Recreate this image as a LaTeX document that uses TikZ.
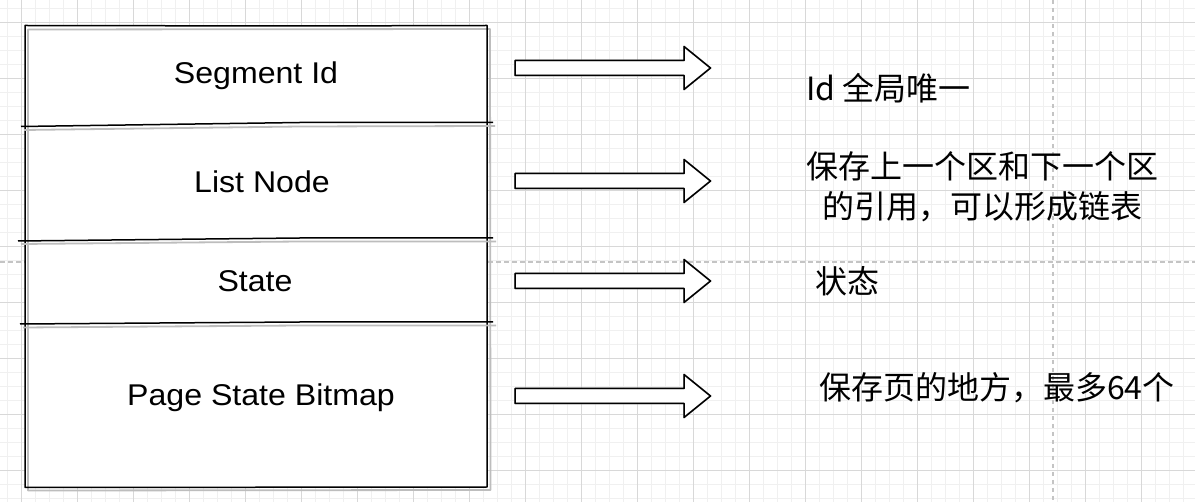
\documentclass[tikz,border=0pt]{standalone}
\usepackage{fontspec}
\setmainfont[FakeStretch=1.07]{Liberation Sans}
\newfontfamily\cjk{Noto Sans CJK SC}
\definecolor{minorc}{HTML}{F0F0F0}
\definecolor{majorc}{HTML}{D8D8D8}
\definecolor{breakc}{HTML}{C4C4C4}
\definecolor{shadec}{HTML}{BDBDBD}
\tikzset{
  minorgrid/.style={draw=minorc, line width=1pt},
  majorgrid/.style={draw=majorc, line width=1pt},
  pagebreak/.style={draw=breakc, line width=1.3pt, dash pattern=on 4.5pt off 3.5pt},
  sketch/.style={draw=black, line width=1.5pt, line join=round},
  shade/.style={draw=shadec, line width=1.8pt, line join=round},
  lbl/.style={font=\fontsize{30}{36}\selectfont, inner sep=0pt, anchor=base},
  note/.style={font=\cjk\fontsize{32}{40}\selectfont, inner sep=0pt},
}
\newcommand\blockarrowpath{++(0,-7.5) -- ++(169,0) -- ++(0,-14) -- ++(26.5,21.5) -- ++(-26.5,21.5) -- ++(0,-14) -- ++(-169,0) -- cycle}
\begin{document}
\begin{tikzpicture}[x=1pt,y=-1pt]
\useasboundingbox (0,0) rectangle (1195,502);
\fill[white] (0,0) rectangle (1195,502);
% grid
\foreach \i in {0,...,84} {\draw[minorgrid] ({7.5+14*\i},0) -- ({7.5+14*\i},502);}
\foreach \j in {0,...,35} {\draw[minorgrid] (0,{8.5+14*\j}) -- (1195,{8.5+14*\j});}
\foreach \i in {0,...,20} {\draw[majorgrid] ({21.5+56*\i},0) -- ({21.5+56*\i},502);}
\foreach \j in {0,...,8} {\draw[majorgrid] (0,{22.5+56*\j}) -- (1195,{22.5+56*\j});}
% page breaks
\draw[pagebreak] (1053,0) -- (1053,502);
\draw[pagebreak] (0,262) -- (1195,262);
% main box
\fill[white] (25,26) rectangle (487,487);
\draw[shade] (28,29.5) -- (490,29) -- (490.5,490) -- (28,490.5) -- cycle;
\draw[sketch] (25,25.5) -- (300,26) -- (487,25.5) -- (487,487) -- (25,487.5) -- cycle;
% dividers
\draw[shade] (24,130) -- (300,126.5) -- (495,126);
\draw[sketch] (21,126.5) -- (300,122.5) -- (493,122.5);
\draw[shade] (21,244) -- (300,241.5) -- (496,241.5);
\draw[sketch] (18,241) -- (300,238) -- (493,238);
\draw[shade] (23,327.5) -- (300,325.5) -- (496,325.5);
\draw[sketch] (20,324) -- (300,322) -- (493,322);
% row labels
\node[lbl] (seg) at (256,83.5) {Segment Id};
\node[lbl] (list) at (262,192.5) {List Node};
\node[lbl] (state) at (255,291.5) {State};
\node[lbl] (bitmap) at (261,406) {Page State Bitmap};
% arrows
\coordinate (a1) at (515,68);
\coordinate (a2) at (515,181);
\coordinate (a3) at (515,281);
\coordinate (a4) at (515,396);
\foreach \c in {a1,a2,a3,a4} {
  \fill[white] (\c) \blockarrowpath;
  \draw[shade, shift={(3,3.5)}] (\c) \blockarrowpath;
  \draw[sketch] (\c) \blockarrowpath;
}
% notes
\node[note, anchor=west] (n1) at (806,88) {Id 全局唯一};
\node[note, align=center] (n2) at (982,187) {保存上一个区和下一个区\\的引用，可以形成链表};
\node[note, anchor=west] (n3) at (815,281) {状态};
\node[note, anchor=west] (n4) at (819,388) {保存页的地方，最多64个};
\end{tikzpicture}
\end{document}
